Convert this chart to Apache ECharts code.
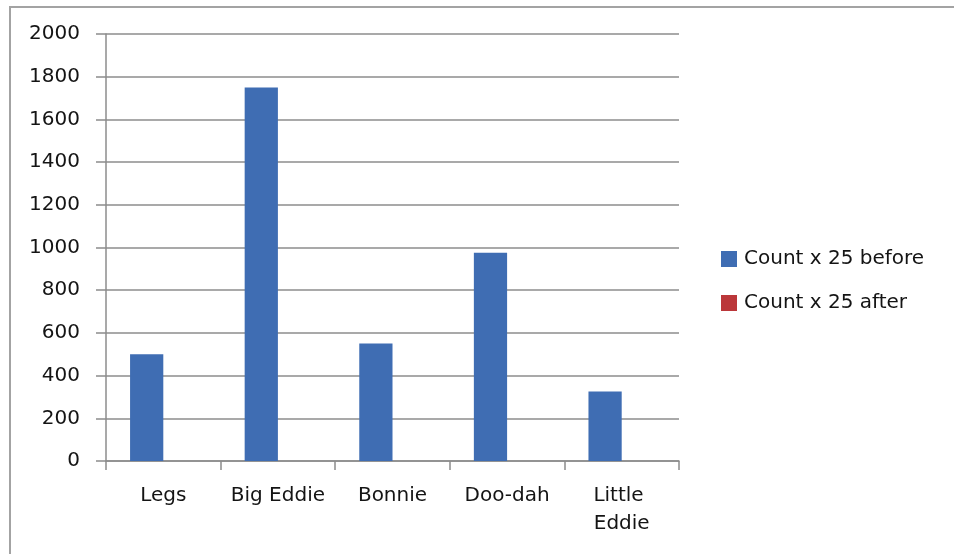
<!DOCTYPE html>
<html>
<head>
<meta charset="utf-8">
<script src="https://cdn.jsdelivr.net/npm/echarts@6/dist/echarts.min.js"></script>
<style>
  html, body { margin: 0; padding: 0; background: #ffffff; }
  #chart { width: 954px; height: 554px; }
</style>
</head>
<body>
<div id="chart"></div>
<script>
// Counts (x 25) per individual
const categories = ['Legs', 'Big Eddie', 'Bonnie', 'Doo-dah', 'Little Eddie'];
const countBefore = [500, 1750, 550, 975, 325];
const countAfter = [0, 0, 0, 0, 0];
const seriesNames = ['Count x 25 before', 'Count x 25 after'];
const yTicks = { min: 0, max: 2000, step: 200 };

const FONT = 'DejaVu Sans';
const TEXT = '#141414';
const GRID_LINE = '#8c8c8c';

const chart = echarts.init(document.getElementById('chart'));
chart.setOption({
  backgroundColor: '#ffffff',
  animation: false,
  textStyle: { fontFamily: FONT },
  graphic: [{
    type: 'rect',
    shape: { x: 10, y: 7, width: 1000, height: 600 },
    style: { fill: 'none', stroke: '#a3a3a3', lineWidth: 2 },
    silent: true
  }],
  grid: { left: 106, right: 275, top: 34, bottom: 93 },
  legend: {
    orient: 'vertical',
    left: 721,
    top: 249,
    padding: 0,
    itemWidth: 16,
    itemHeight: 16,
    itemGap: 24,
    icon: 'rect',
    textStyle: { fontFamily: FONT, fontSize: 20, color: TEXT, padding: [0, 0, 0, 2] },
    data: seriesNames
  },
  xAxis: {
    type: 'category',
    data: categories,
    boundaryGap: true,
    axisLine: { show: true, lineStyle: { color: GRID_LINE, width: 1.5 } },
    axisTick: { show: true, length: 9, alignWithLabel: false, lineStyle: { color: GRID_LINE, width: 1.5 } },
    axisLabel: {
      interval: 0,
      margin: 21,
      fontFamily: FONT,
      fontSize: 20,
      lineHeight: 28,
      color: TEXT,
      width: 105,
      overflow: 'break'
    }
  },
  yAxis: {
    type: 'value',
    min: yTicks.min,
    max: yTicks.max,
    interval: yTicks.step,
    axisLine: { show: true, lineStyle: { color: GRID_LINE, width: 1.5 } },
    axisTick: { show: true, length: 10, lineStyle: { color: GRID_LINE, width: 1.5 } },
    splitLine: { show: true, lineStyle: { color: GRID_LINE, width: 1.5 } },
    axisLabel: {
      margin: 26,
      fontFamily: FONT,
      fontSize: 20,
      color: TEXT,
      formatter: (v) => String(v)
    }
  },
  series: [
    {
      name: seriesNames[0],
      type: 'bar',
      data: countBefore,
      barGap: '0%',
      barCategoryGap: '42%',
      itemStyle: { color: '#3F6DB3' }
    },
    {
      name: seriesNames[1],
      type: 'bar',
      data: countAfter,
      barGap: '0%',
      barCategoryGap: '42%',
      itemStyle: { color: '#BB373A' }
    }
  ]
});
</script>
</body>
</html>
